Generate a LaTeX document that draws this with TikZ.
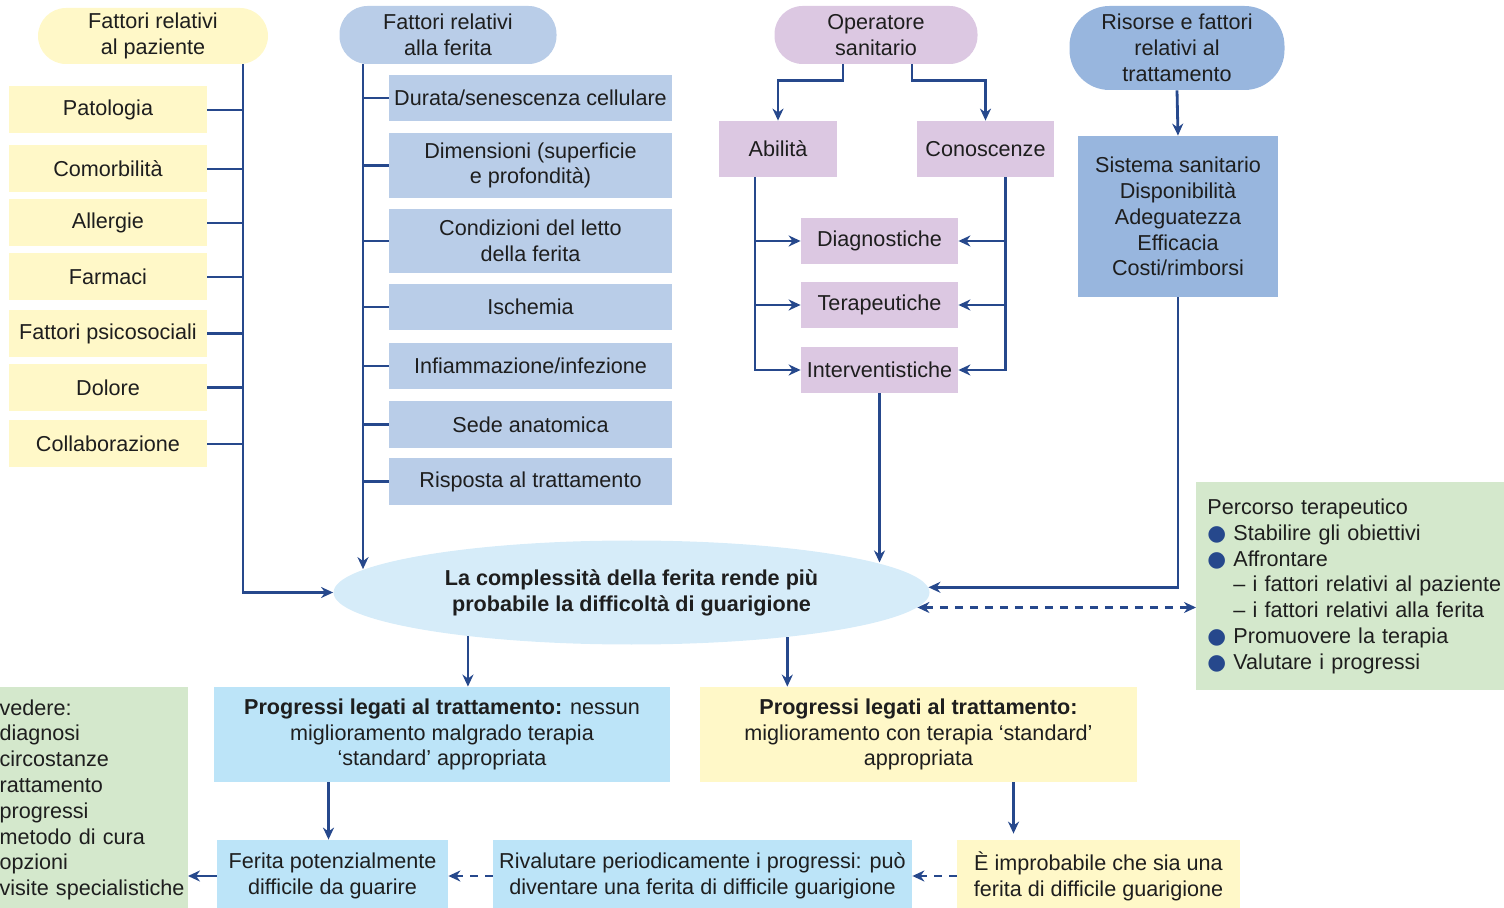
\documentclass[tikz,border=0pt]{standalone}
\usepackage{fontspec}
\setmainfont{Liberation Sans}
\newfontfamily\simboli{DejaVu Sans}
\usetikzlibrary{arrows.meta,shapes.geometric}

\definecolor{giallo}{RGB}{255,248,200}
\definecolor{azzurro}{RGB}{185,205,232}
\definecolor{lilla}{RGB}{220,200,226}
\definecolor{bluris}{RGB}{152,182,222}
\definecolor{celeste}{RGB}{214,236,249}
\definecolor{ciano}{RGB}{188,228,248}
\definecolor{verde}{RGB}{212,232,204}
\definecolor{blulinea}{RGB}{38,72,140}
\definecolor{inchiostro}{RGB}{30,30,30}

\newcommand\corpo{\fontsize{10.8}{12.9}\selectfont}
\newcommand\pallino{\makebox[13pt][l]{\simboli\color{blulinea}●}}

\tikzset{
  punta/.tip={Stealth[length=6pt,width=5.5pt]},
  testo/.style={font=\corpo, text=inchiostro, align=center, inner sep=0pt},
  capo/.style={testo, rounded corners=14pt, minimum height=28pt},
  voce/.style={testo, minimum height=23.5pt},
  linea/.style={draw=blulinea, line width=1.4pt},
  freccia/.style={linea, -punta},
  tratteggio/.style={freccia, dash pattern=on 4pt off 3.5pt},
}

\begin{document}
\begin{tikzpicture}[x=0.5pt,y=-0.5pt]
\useasboundingbox (0,0) rectangle (1504,908);

% fattori relativi al paziente
\node[capo,fill=giallo,minimum width=115pt] (paz) at (153,36) {Fattori relativi\\al paziente};
\foreach \i/\y/\testo in {1/110/Patologia,2/169/Comorbilità,3/223/Allergie,4/277/Farmaci,
    5/333.5/Fattori psicosociali,6/387.5/Dolore,7/444/Collaborazione}
  \node[voce,fill=giallo,minimum width=99pt] (p\i) at (108,\y) {\testo};

% fattori relativi alla ferita
\node[capo,fill=azzurro,minimum width=108.5pt,minimum height=29pt] (fer) at (448,35) {Fattori relativi\\alla ferita};
\foreach \i/\y/\h/\testo in {1/98/23/{Durata/senescenza cellulare},
    2/165.5/32.5/{Dimensioni (superficie\\e profondità)},
    3/241/32/{Condizioni del letto\\della ferita},
    4/307/23/Ischemia,
    5/366/23/{Infiammazione/infezione},
    6/424.5/23.5/Sede anatomica,
    7/481.5/23.5/Risposta al trattamento}
  \node[voce,fill=azzurro,minimum width=141.5pt,minimum height=\h pt] (f\i) at (530.5,\y) {\testo};

% operatore sanitario
\node[capo,fill=lilla,minimum width=101.5pt,minimum height=29pt] (oper) at (876,35) {Operatore\\sanitario};
\node[voce,fill=lilla,minimum width=59pt,minimum height=28pt] (abil) at (778,149) {Abilità};
\node[voce,fill=lilla,minimum width=68.5pt,minimum height=28pt] (conosc) at (985.5,149) {Conoscenze};
\foreach \n/\y/\testo in {diag/241/Diagnostiche,ter/305/Terapeutiche,interv/370/Interventistiche}
  \node[voce,fill=lilla,minimum width=78.5pt,minimum height=23pt] (\n) at (879.5,\y) {\testo};

% risorse
\node[capo,fill=bluris,minimum width=107.5pt,minimum height=42pt,rounded corners=20pt] (ris) at (1177,48) {Risorse e fattori\\relativi al\\trattamento};
\node[voce,fill=bluris,minimum width=100pt,minimum height=80.5pt] (sist) at (1178,216.5) {Sistema sanitario\\Disponibilità\\Adeguatezza\\Efficacia\\Costi/rimborsi};

% centro
\node[testo,ellipse,fill=celeste,minimum width=298pt,minimum height=52pt,font=\corpo\bfseries] (compl) at (631.5,592.5) {La complessità della ferita rende più\\probabile la difficoltà di guarigione};

\node[testo,fill=verde,anchor=north west,align=left,text width=160pt,inner xsep=5.5pt,minimum height=104pt] (perc) at (1196,482)
  {Percorso terapeutico\\\pallino Stabilire gli obiettivi\\\pallino Affrontare\\\hspace*{13pt}– i fattori relativi al paziente\\\hspace*{13pt}– i fattori relativi alla ferita\\\pallino Promuovere la terapia\\\pallino Valutare i progressi};

% esiti
\node[voce,fill=ciano,minimum width=228pt,minimum height=47.5pt] (nomigl) at (442,734.5) {\textbf{Progressi legati al trattamento:} nessun\\miglioramento malgrado terapia\\‘standard’ appropriata};
\node[voce,fill=giallo,minimum width=218.5pt,minimum height=47.5pt] (migl) at (918.5,734.5) {\textbf{Progressi legati al trattamento:}\\miglioramento con terapia ‘standard’\\appropriata};
\node[voce,fill=ciano,minimum width=115.5pt,minimum height=36pt] (potdiff) at (332.5,876) {Ferita potenzialmente\\difficile da guarire};
\node[voce,fill=ciano,minimum width=209.5pt,minimum height=36pt] (rival) at (702.5,876) {Rivalutare periodicamente i progressi: può\\diventare una ferita di difficile guarigione};
\node[voce,fill=giallo,minimum width=141.5pt,minimum height=36pt] (improb) at (1098.5,876) {È improbabile che sia una\\ferita di difficile guarigione};
\node[testo,fill=verde,anchor=north east,align=left,text width=93pt,inner xsep=1pt,minimum height=112.5pt] (riv) at (188,687)
  {vedere:\\diagnosi\\circostanze\\rattamento\\progressi\\metodo di cura\\opzioni\\visite specialistiche};

% collegamenti
\coordinate (pbus) at ([xshift=45pt]paz.south);
\draw[freccia] (pbus) |- (compl.west);
\foreach \i in {1,...,7}
  \draw[linea] (p\i.east) -- (p\i.east -| pbus);

\coordinate (fbus) at ([xshift=-42.5pt]fer.south);
\draw[freccia] (fbus) -- (fbus |- compl.175);
\foreach \i in {1,...,7}
  \draw[linea] (f\i.west -| fbus) -- (f\i.west);

\draw[freccia] ([xshift=-16.5pt]oper.south) -- ++(0,16) -| (abil.north);
\draw[freccia] ([xshift=18pt]oper.south) -- ++(0,16) -| (conosc.north);
\coordinate (abus) at ([xshift=-11.5pt]abil.south);
\coordinate (cbus) at ([xshift=10pt]conosc.south);
\draw[freccia] (abus) |- (interv.west);
\draw[freccia] (cbus) |- (interv.east);
\foreach \n in {diag,ter}{
  \draw[freccia] (\n.west -| abus) -- (\n.west);
  \draw[freccia] (\n.east -| cbus) -- (\n.east);
}
\draw[freccia] (interv.south) -- (interv.south |- compl.7);

\draw[freccia] (ris.south) -- (sist.north);
\draw[freccia] (sist.south) |- (compl.1);
\draw[tratteggio,punta-punta] (compl.-3) -- (compl.-3 -| perc.west);

\draw[freccia] (compl.195) -- (compl.195 |- nomigl.north);
\draw[freccia] (compl.-16) -- (compl.-16 |- migl.north);
\draw[freccia] ([xshift=-2pt]potdiff.north |- nomigl.south) -- ([xshift=-2pt]potdiff.north);
\draw[freccia,shorten >=3pt] ([xshift=-42.5pt]improb.north |- migl.south) -- ([xshift=-42.5pt]improb.north);
\draw[tratteggio] (improb.west) -- (rival.east);
\draw[tratteggio] (rival.west) -- (potdiff.east);
\draw[freccia] (potdiff.west) -- (potdiff.west -| riv.east);
\end{tikzpicture}
\end{document}
